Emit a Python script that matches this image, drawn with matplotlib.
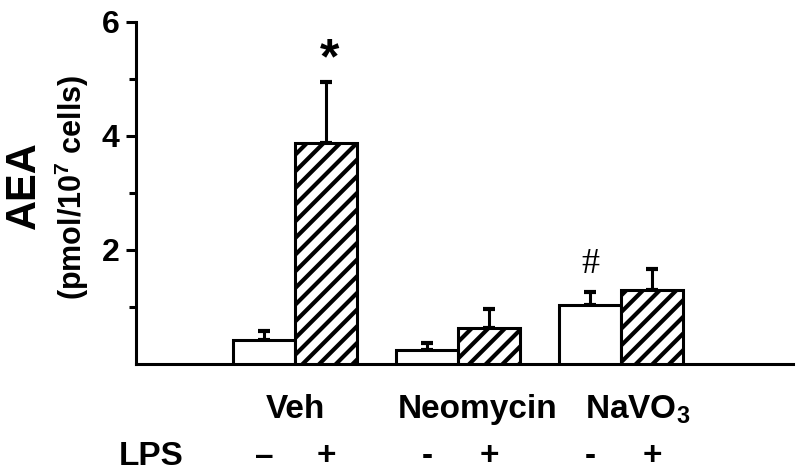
import numpy as np
import matplotlib
matplotlib.use("Agg")
import matplotlib.pyplot as plt

groups = ["Veh", "Neomycin", r"NaVO$_\mathbf{3}$"]
lps_signs = ["-", "+"]
aea_minus = [0.43, 0.25, 1.03]
aea_plus = [3.87, 0.64, 1.29]
err_minus = [0.15, 0.12, 0.23]
err_plus = [1.08, 0.32, 0.38]
marks = [("*", 1, 0), ("#", 0, 2)]  # (symbol, lps index, group index)

plt.rcParams['font.family'] = ['Liberation Sans', 'DejaVu Sans']
plt.rcParams['mathtext.fontset'] = 'custom'
plt.rcParams['mathtext.rm'] = 'Liberation Sans'
plt.rcParams['mathtext.bf'] = 'Liberation Sans:bold'
plt.rcParams['hatch.linewidth'] = 3.0
plt.rcParams['hatch.color'] = 'black'

fig = plt.figure(figsize=(8, 4.74), dpi=100)
ax = fig.add_axes([0.17, 0.232, 0.821, 0.722])

x = np.arange(len(groups))
w = 0.38
lw = 2.2

ax.bar(x - w/2, aea_minus, w, color='white', edgecolor='black', linewidth=lw, zorder=3)
ax.bar(x + w/2, aea_plus, w, color='white', edgecolor='black', linewidth=lw,
       hatch='//', zorder=3)
ax.errorbar(x - w/2, aea_minus, yerr=[np.zeros(3), err_minus], fmt='none',
            ecolor='black', elinewidth=2.2, capsize=4, capthick=3, zorder=2)
ax.errorbar(x + w/2, aea_plus, yerr=[np.zeros(3), err_plus], fmt='none',
            ecolor='black', elinewidth=2.2, capsize=4, capthick=3, zorder=2)

# significance marks
tops = [np.array(aea_minus) + err_minus, np.array(aea_plus) + err_plus]
for sym, s, g in marks:
    xs = x[g] + (w/2 if s == 1 else -w/2)
    if sym == "*":
        ax.text(xs + 0.02, tops[s][g] - 0.03, sym, ha='center', va='bottom',
                fontsize=36, fontweight='bold')
    else:
        ax.text(xs, tops[s][g] + 0.2, sym, ha='center', va='bottom',
                fontsize=26, family='Liberation Serif')

ax.set_xlim(-0.975, 3.05)
ax.set_ylim(0, 6)
ax.set_yticks([2, 4, 6])
ax.set_yticks([1, 3, 5], minor=True)
ax.tick_params(axis='y', which='major', length=7, width=2.2, labelsize=23, pad=5)
ax.tick_params(axis='y', which='minor', length=5, width=2.2)
for lab in ax.get_yticklabels():
    lab.set_fontweight('bold')
ax.set_xticks([])
for sp in ['top', 'right']:
    ax.spines[sp].set_visible(False)
ax.spines['left'].set_linewidth(2.2)
ax.spines['bottom'].set_linewidth(2.2)

# group labels
offsets = [0.0, 0.12, 0.1]
for i, g in enumerate(groups):
    ax.text(x[i] + offsets[i], -0.52, g, ha='center', va='top',
            fontsize=24, fontweight='bold')

# LPS row
ax.text(-0.88, -1.35, "LPS", ha='center', va='top', fontsize=24, fontweight='bold')
for i in range(len(groups)):
    ax.text(x[i] - w/2, -1.35, "\u2013" if i == 0 else lps_signs[0], ha='center', va='top',
            fontsize=24, fontweight='bold')
    ax.text(x[i] + w/2, -1.35, lps_signs[1], ha='center', va='top',
            fontsize=24, fontweight='bold')

fig.text(0.03, 0.61, "AEA", rotation=90, ha='center', va='center',
         fontsize=30, fontweight='bold')
fig.text(0.09, 0.605, r"(pmol/10$^\mathbf{7}$ cells)", rotation=90, ha='center', va='center',
         fontsize=22, fontweight='bold')

fig.savefig("out.png", dpi=100)
